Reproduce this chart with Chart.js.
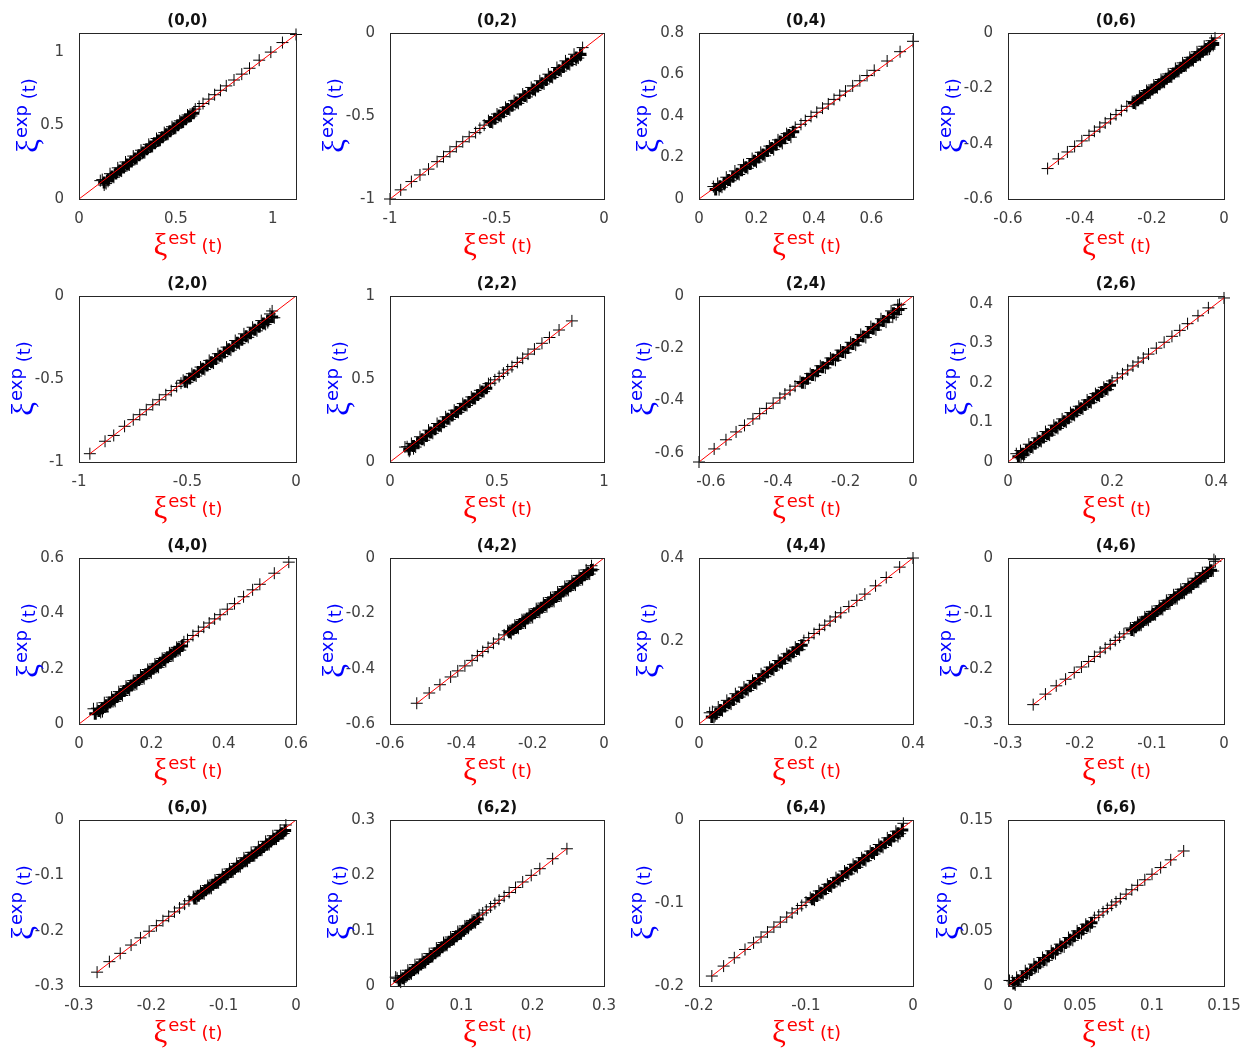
<!DOCTYPE html>
<html>
<head>
<meta charset="utf-8">
<script src="https://cdn.jsdelivr.net/npm/chart.js@4.4.0/dist/chart.umd.min.js"></script>
<style>
  html, body { margin: 0; padding: 0; background: #fff; }
  body { width: 1254px; height: 1057px; position: relative; overflow: hidden; }
  canvas { position: absolute; }
</style>
</head>
<body>
<script>
// panel titles, row by row
const titles = ['(0,0)', '(0,2)', '(0,4)', '(0,6)',
                '(2,0)', '(2,2)', '(2,4)', '(2,6)',
                '(4,0)', '(4,2)', '(4,4)', '(4,6)',
                '(6,0)', '(6,2)', '(6,4)', '(6,6)'];

// axis limits
const xMin = [0, -1, 0, -0.6,   -1, 0, -0.635, 0,     0, -0.6, 0, -0.3,   -0.3, 0, -0.2, 0];
const xMax = [1.12, 0, 0.745, 0, 0, 1, 0, 0.415,      0.6, 0, 0.4, 0,     0, 0.3, 0, 0.15];
const yMin = [0, -1, 0, -0.6,   -1, 0, -0.635, 0,     0, -0.6, 0, -0.3,   -0.3, 0, -0.2, 0];
const yMax = [1.13, 0, 0.8, 0,  0, 1, 0, 0.42,        0.6, 0, 0.4, 0,     0, 0.3, 0, 0.15];

// tick labels
const xTicks = [[0, 0.5, 1], [-1, -0.5, 0], [0, 0.2, 0.4, 0.6], [-0.6, -0.4, -0.2, 0],
                [-1, -0.5, 0], [0, 0.5, 1], [-0.6, -0.4, -0.2, 0], [0, 0.2, 0.4],
                [0, 0.2, 0.4, 0.6], [-0.6, -0.4, -0.2, 0], [0, 0.2, 0.4], [-0.3, -0.2, -0.1, 0],
                [-0.3, -0.2, -0.1, 0], [0, 0.1, 0.2, 0.3], [-0.2, -0.1, 0], [0, 0.05, 0.1, 0.15]];
const yTicks = [[0, 0.5, 1], [-1, -0.5, 0], [0, 0.2, 0.4, 0.6, 0.8], [-0.6, -0.4, -0.2, 0],
                [-1, -0.5, 0], [0, 0.5, 1], [-0.6, -0.4, -0.2, 0], [0, 0.1, 0.2, 0.3, 0.4],
                [0, 0.2, 0.4, 0.6], [-0.6, -0.4, -0.2, 0], [0, 0.2, 0.4], [-0.3, -0.2, -0.1, 0],
                [-0.3, -0.2, -0.1, 0], [0, 0.1, 0.2, 0.3], [-0.2, -0.1, 0], [0, 0.05, 0.1, 0.15]];

// end of the red y = x reference line (it starts at 0)
const lineEnd = [1.12, -1, 0.745, -0.49, -0.95, 0.85, -0.635, 0.415,
                 0.58, -0.525, 0.4, -0.265, -0.275, 0.248, -0.188, 0.122];

// [xi_est, xi_exp] pairs for each panel
const pts00 = [[1.12,1.12],[1.05,1.065],[0.99,1.0],[0.93,0.945],[0.88,0.89],[0.84,0.85],[0.80,0.81],[0.76,0.77],[0.73,0.74],[0.70,0.71],[0.67,0.68],[0.64,0.65],[0.62,0.63],
  [0.60,0.612],[0.58,0.565],[0.56,0.572],[0.54,0.524],[0.52,0.532],[0.50,0.482],[0.48,0.492],[0.46,0.441],[0.44,0.452],[0.42,0.40],[0.40,0.412],[0.38,0.358],[0.36,0.372],[0.34,0.316],[0.32,0.332],[0.30,0.274],[0.28,0.292],[0.26,0.232],[0.24,0.252],[0.22,0.19],[0.20,0.212],[0.18,0.148],[0.16,0.172],[0.14,0.105],[0.12,0.132],[0.15,0.12],[0.13,0.095],[0.11,0.125]];
const pts02 = [[-1,-1],[-0.95,-0.945],[-0.90,-0.895],[-0.86,-0.855],[-0.82,-0.82],[-0.78,-0.775],[-0.75,-0.745],[-0.72,-0.715],[-0.69,-0.685],[-0.66,-0.655],[-0.63,-0.625],[-0.60,-0.60],[-0.58,-0.575],[-0.56,-0.555],
  [-0.54,-0.528],[-0.52,-0.54],[-0.50,-0.488],[-0.48,-0.502],[-0.46,-0.448],[-0.44,-0.463],[-0.42,-0.408],[-0.40,-0.424],[-0.38,-0.368],[-0.36,-0.385],[-0.34,-0.328],[-0.32,-0.346],[-0.30,-0.288],[-0.28,-0.307],[-0.26,-0.248],[-0.24,-0.268],[-0.22,-0.208],[-0.20,-0.229],[-0.18,-0.168],[-0.16,-0.19],[-0.14,-0.128],[-0.12,-0.151],[-0.10,-0.088],[-0.11,-0.135],[-0.13,-0.163]];
const pts04 = [[0.745,0.76],[0.70,0.71],[0.655,0.665],[0.61,0.62],[0.585,0.595],[0.56,0.57],[0.535,0.545],[0.51,0.52],[0.49,0.50],[0.47,0.48],[0.45,0.458],[0.43,0.438],[0.41,0.418],[0.39,0.398],[0.37,0.378],[0.355,0.36],
  [0.335,0.345],[0.32,0.298],[0.305,0.315],[0.29,0.268],[0.275,0.285],[0.26,0.238],[0.245,0.255],[0.23,0.208],[0.215,0.225],[0.20,0.178],[0.185,0.195],[0.17,0.148],[0.155,0.165],[0.14,0.118],[0.125,0.135],[0.11,0.088],[0.095,0.105],[0.08,0.057],[0.065,0.075],[0.05,0.06],[0.07,0.045],[0.09,0.07]];
const pts06 = [[-0.49,-0.49],[-0.46,-0.455],[-0.435,-0.43],[-0.415,-0.41],[-0.395,-0.39],[-0.375,-0.37],[-0.36,-0.355],[-0.345,-0.34],[-0.33,-0.325],[-0.315,-0.31],[-0.30,-0.295],[-0.285,-0.28],[-0.27,-0.265],
  [-0.255,-0.248],[-0.245,-0.256],[-0.235,-0.228],[-0.225,-0.237],[-0.215,-0.208],[-0.205,-0.217],[-0.195,-0.188],[-0.185,-0.198],[-0.175,-0.168],[-0.165,-0.178],[-0.155,-0.148],[-0.145,-0.159],[-0.135,-0.128],[-0.125,-0.139],[-0.115,-0.108],[-0.105,-0.119],[-0.095,-0.088],[-0.085,-0.1],[-0.075,-0.068],[-0.065,-0.08],[-0.055,-0.048],[-0.045,-0.06],[-0.035,-0.028],[-0.03,-0.045],[-0.04,-0.058],[-0.025,-0.018]];
const pts20 = [[-0.95,-0.95],[-0.88,-0.875],[-0.84,-0.84],[-0.79,-0.785],[-0.75,-0.745],[-0.72,-0.715],[-0.69,-0.685],[-0.66,-0.655],[-0.63,-0.625],[-0.60,-0.595],[-0.575,-0.57],[-0.55,-0.545],[-0.53,-0.525],
  [-0.52,-0.508],[-0.50,-0.52],[-0.48,-0.468],[-0.46,-0.482],[-0.44,-0.428],[-0.42,-0.443],[-0.40,-0.388],[-0.38,-0.404],[-0.36,-0.348],[-0.34,-0.365],[-0.32,-0.308],[-0.30,-0.326],[-0.28,-0.268],[-0.26,-0.287],[-0.24,-0.228],[-0.22,-0.249],[-0.20,-0.188],[-0.18,-0.21],[-0.16,-0.148],[-0.14,-0.171],[-0.12,-0.108],[-0.10,-0.131],[-0.11,-0.09],[-0.13,-0.16]];
const pts22 = [[0.85,0.85],[0.79,0.795],[0.745,0.75],[0.71,0.715],[0.675,0.68],[0.645,0.65],[0.62,0.625],[0.595,0.60],[0.57,0.575],[0.55,0.555],[0.53,0.535],[0.51,0.515],[0.49,0.495],[0.47,0.475],
  [0.46,0.472],[0.44,0.424],[0.42,0.432],[0.40,0.382],[0.38,0.392],[0.36,0.34],[0.34,0.352],[0.32,0.299],[0.30,0.312],[0.28,0.257],[0.26,0.272],[0.24,0.215],[0.22,0.232],[0.20,0.173],[0.18,0.192],[0.16,0.131],[0.14,0.152],[0.12,0.09],[0.10,0.112],[0.08,0.092],[0.09,0.065],[0.11,0.08],[0.07,0.09]];
const pts24 = [[-0.635,-0.635],[-0.59,-0.585],[-0.555,-0.55],[-0.525,-0.52],[-0.50,-0.495],[-0.475,-0.47],[-0.455,-0.45],[-0.435,-0.43],[-0.415,-0.41],[-0.395,-0.39],[-0.38,-0.375],[-0.365,-0.36],[-0.35,-0.345],
  [-0.335,-0.327],[-0.32,-0.333],[-0.305,-0.297],[-0.29,-0.304],[-0.275,-0.267],[-0.26,-0.275],[-0.245,-0.237],[-0.23,-0.246],[-0.215,-0.207],[-0.20,-0.217],[-0.185,-0.177],[-0.17,-0.188],[-0.155,-0.147],[-0.14,-0.159],[-0.125,-0.117],[-0.11,-0.13],[-0.095,-0.087],[-0.08,-0.1],[-0.065,-0.057],[-0.05,-0.071],[-0.045,-0.035],[-0.06,-0.081],[-0.04,-0.032],[-0.035,-0.048]];
const pts26 = [[0.415,0.415],[0.385,0.39],[0.365,0.37],[0.345,0.35],[0.33,0.333],[0.315,0.318],[0.30,0.303],[0.285,0.288],[0.27,0.273],[0.26,0.263],[0.25,0.253],[0.24,0.243],[0.23,0.233],[0.22,0.223],[0.21,0.213],
  [0.20,0.205],[0.192,0.183],[0.184,0.189],[0.176,0.167],[0.168,0.173],[0.16,0.15],[0.152,0.157],[0.144,0.134],[0.136,0.141],[0.128,0.118],[0.12,0.125],[0.112,0.101],[0.104,0.109],[0.096,0.085],[0.088,0.093],[0.08,0.068],[0.072,0.077],[0.064,0.052],[0.056,0.061],[0.048,0.036],[0.04,0.045],[0.032,0.02],[0.024,0.029],[0.016,0.021],[0.025,0.012],[0.03,0.016]];
const pts40 = [[0.58,0.585],[0.54,0.545],[0.50,0.505],[0.48,0.485],[0.455,0.46],[0.43,0.435],[0.41,0.415],[0.39,0.395],[0.375,0.38],[0.36,0.365],[0.345,0.35],[0.33,0.335],[0.315,0.32],[0.30,0.305],
  [0.29,0.297],[0.28,0.267],[0.27,0.277],[0.26,0.246],[0.25,0.257],[0.24,0.226],[0.23,0.237],[0.22,0.205],[0.21,0.217],[0.20,0.185],[0.19,0.197],[0.18,0.164],[0.17,0.177],[0.16,0.144],[0.15,0.157],[0.14,0.123],[0.13,0.137],[0.12,0.103],[0.11,0.117],[0.10,0.082],[0.09,0.097],[0.08,0.062],[0.07,0.077],[0.06,0.042],[0.05,0.057],[0.04,0.055],[0.065,0.045]];
const pts42 = [[-0.525,-0.525],[-0.49,-0.488],[-0.46,-0.458],[-0.43,-0.43],[-0.41,-0.408],[-0.39,-0.39],[-0.37,-0.37],[-0.355,-0.353],[-0.34,-0.338],[-0.325,-0.323],[-0.31,-0.308],[-0.295,-0.293],[-0.28,-0.278],
  [-0.27,-0.263],[-0.26,-0.273],[-0.25,-0.243],[-0.24,-0.254],[-0.23,-0.223],[-0.22,-0.235],[-0.21,-0.203],[-0.20,-0.215],[-0.19,-0.183],[-0.18,-0.196],[-0.17,-0.163],[-0.16,-0.176],[-0.15,-0.143],[-0.14,-0.157],[-0.13,-0.123],[-0.12,-0.137],[-0.11,-0.103],[-0.10,-0.117],[-0.09,-0.083],[-0.08,-0.098],[-0.07,-0.063],[-0.06,-0.078],[-0.05,-0.043],[-0.04,-0.058],[-0.035,-0.028],[-0.03,-0.042]];
const pts44 = [[0.40,0.40],[0.375,0.378],[0.35,0.353],[0.33,0.333],[0.31,0.313],[0.295,0.298],[0.28,0.283],[0.265,0.268],[0.255,0.258],[0.245,0.248],[0.235,0.238],[0.225,0.228],[0.215,0.218],[0.205,0.208],
  [0.196,0.201],[0.188,0.179],[0.18,0.185],[0.172,0.163],[0.164,0.169],[0.156,0.146],[0.148,0.153],[0.14,0.13],[0.132,0.137],[0.124,0.114],[0.116,0.121],[0.108,0.097],[0.10,0.105],[0.092,0.081],[0.084,0.089],[0.076,0.065],[0.068,0.073],[0.06,0.048],[0.052,0.057],[0.044,0.032],[0.036,0.041],[0.028,0.016],[0.02,0.027],[0.03,0.02],[0.025,0.03]];
const pts46 = [[-0.265,-0.265],[-0.248,-0.246],[-0.233,-0.231],[-0.22,-0.219],[-0.208,-0.207],[-0.198,-0.197],[-0.188,-0.187],[-0.18,-0.178],[-0.172,-0.17],[-0.165,-0.163],[-0.158,-0.156],[-0.151,-0.149],[-0.145,-0.143],[-0.139,-0.137],
  [-0.13,-0.1265],[-0.125,-0.1315],[-0.12,-0.1165],[-0.115,-0.1215],[-0.11,-0.1065],[-0.105,-0.1125],[-0.10,-0.0965],[-0.095,-0.1025],[-0.09,-0.0865],[-0.085,-0.093],[-0.08,-0.0765],[-0.075,-0.083],[-0.07,-0.0665],[-0.065,-0.0735],[-0.06,-0.0565],[-0.055,-0.0635],[-0.05,-0.0465],[-0.045,-0.0535],[-0.04,-0.0365],[-0.035,-0.0435],[-0.03,-0.0265],[-0.025,-0.0335],[-0.02,-0.0165],[-0.015,-0.0235],[-0.012,-0.006],[-0.014,-0.003]];
const pts60 = [[-0.275,-0.275],[-0.258,-0.256],[-0.243,-0.241],[-0.228,-0.226],[-0.215,-0.213],[-0.203,-0.201],[-0.193,-0.191],[-0.184,-0.182],[-0.176,-0.174],[-0.168,-0.166],[-0.161,-0.159],[-0.154,-0.152],[-0.148,-0.146],
  [-0.142,-0.1385],[-0.137,-0.1425],[-0.132,-0.1285],[-0.127,-0.1335],[-0.122,-0.1185],[-0.117,-0.1235],[-0.112,-0.1085],[-0.107,-0.1135],[-0.102,-0.0985],[-0.097,-0.104],[-0.092,-0.0885],[-0.087,-0.094],[-0.082,-0.0785],[-0.077,-0.0845],[-0.072,-0.0685],[-0.067,-0.0745],[-0.062,-0.0585],[-0.057,-0.0645],[-0.052,-0.0485],[-0.047,-0.0545],[-0.042,-0.0385],[-0.037,-0.0445],[-0.032,-0.0285],[-0.027,-0.0345],[-0.022,-0.0185],[-0.017,-0.0245],[-0.014,-0.009],[-0.016,-0.02]];
const pts62 = [[0.248,0.248],[0.228,0.23],[0.21,0.212],[0.198,0.2],[0.186,0.188],[0.176,0.178],[0.167,0.169],[0.16,0.162],[0.153,0.155],[0.147,0.149],[0.141,0.143],[0.135,0.137],[0.13,0.132],
  [0.125,0.1285],[0.12,0.1145],[0.115,0.1185],[0.11,0.1045],[0.105,0.1085],[0.10,0.094],[0.095,0.0985],[0.09,0.084],[0.085,0.0885],[0.08,0.0735],[0.075,0.0785],[0.07,0.0635],[0.065,0.0685],[0.06,0.053],[0.055,0.0585],[0.05,0.0425],[0.045,0.0485],[0.04,0.032],[0.035,0.0385],[0.03,0.022],[0.025,0.0285],[0.02,0.0115],[0.015,0.0185],[0.01,0.014],[0.015,0.007],[0.008,0.016]];
const pts64 = [[-0.188,-0.188],[-0.177,-0.176],[-0.167,-0.166],[-0.157,-0.156],[-0.149,-0.148],[-0.142,-0.141],[-0.136,-0.135],[-0.13,-0.129],[-0.124,-0.123],[-0.118,-0.117],[-0.113,-0.112],[-0.108,-0.107],[-0.104,-0.103],[-0.10,-0.099],
  [-0.096,-0.0935],[-0.092,-0.0965],[-0.088,-0.0855],[-0.084,-0.0885],[-0.08,-0.0775],[-0.076,-0.0805],[-0.072,-0.0695],[-0.068,-0.073],[-0.064,-0.0615],[-0.06,-0.065],[-0.056,-0.0535],[-0.052,-0.057],[-0.048,-0.0455],[-0.044,-0.049],[-0.04,-0.0375],[-0.036,-0.041],[-0.032,-0.0295],[-0.028,-0.033],[-0.024,-0.0215],[-0.02,-0.025],[-0.016,-0.0135],[-0.012,-0.0165],[-0.009,-0.004],[-0.014,-0.02]];
const pts66 = [[0.122,0.122],[0.113,0.114],[0.106,0.107],[0.1,0.101],[0.095,0.096],[0.09,0.091],[0.086,0.087],[0.082,0.083],[0.078,0.079],[0.075,0.076],[0.072,0.073],[0.069,0.07],[0.066,0.067],[0.063,0.064],
  [0.06,0.0618],[0.057,0.0535],[0.054,0.0558],[0.051,0.0475],[0.048,0.0498],[0.045,0.0413],[0.042,0.0438],[0.039,0.0353],[0.036,0.0378],[0.033,0.0292],[0.03,0.0318],[0.027,0.0232],[0.024,0.0258],[0.021,0.0172],[0.018,0.0198],[0.015,0.0111],[0.012,0.0138],[0.009,0.005],[0.006,0.0078],[0.003,0.0045],[0.005,0.001],[0.001,0.005]];

// more points inside the dense part of each band
const ext00 = [[0.59,0.584],[0.57,0.563],[0.55,0.543],[0.53,0.522],[0.51,0.502],[0.49,0.481],[0.47,0.461],[0.45,0.44],[0.43,0.42],[0.41,0.399],[0.39,0.379],[0.37,0.358],[0.35,0.338],[0.33,0.317],[0.31,0.297],[0.29,0.276],[0.27,0.256],[0.25,0.235],[0.23,0.215],[0.21,0.194],[0.19,0.174],[0.17,0.153],[0.15,0.133],[0.13,0.112]];
const ext02 = [[-0.53,-0.536],[-0.51,-0.517],[-0.49,-0.497],[-0.47,-0.478],[-0.45,-0.458],[-0.43,-0.439],[-0.41,-0.419],[-0.39,-0.4],[-0.37,-0.38],[-0.35,-0.361],[-0.33,-0.341],[-0.31,-0.322],[-0.29,-0.302],[-0.27,-0.283],[-0.25,-0.263],[-0.23,-0.244],[-0.21,-0.224],[-0.19,-0.205],[-0.17,-0.185],[-0.15,-0.166],[-0.13,-0.147],[-0.11,-0.128]];
const ext04 = [[0.328,0.324],[0.313,0.308],[0.298,0.293],[0.283,0.277],[0.268,0.262],[0.253,0.246],[0.238,0.231],[0.223,0.215],[0.208,0.2],[0.193,0.184],[0.178,0.169],[0.163,0.153],[0.148,0.138],[0.133,0.122],[0.118,0.107],[0.103,0.092],[0.088,0.077],[0.073,0.061],[0.058,0.046]];
const ext06 = [[-0.25,-0.253],[-0.24,-0.243],[-0.23,-0.234],[-0.22,-0.224],[-0.21,-0.214],[-0.2,-0.204],[-0.19,-0.195],[-0.18,-0.185],[-0.17,-0.175],[-0.16,-0.165],[-0.15,-0.156],[-0.14,-0.146],[-0.13,-0.136],[-0.12,-0.126],[-0.11,-0.117],[-0.1,-0.107],[-0.09,-0.097],[-0.08,-0.087],[-0.07,-0.077],[-0.06,-0.068],[-0.05,-0.058],[-0.04,-0.048],[-0.03,-0.038]];
const ext20 = [[-0.51,-0.516],[-0.49,-0.497],[-0.47,-0.477],[-0.45,-0.458],[-0.43,-0.438],[-0.41,-0.419],[-0.39,-0.399],[-0.37,-0.38],[-0.35,-0.36],[-0.33,-0.341],[-0.31,-0.321],[-0.29,-0.302],[-0.27,-0.282],[-0.25,-0.263],[-0.23,-0.243],[-0.21,-0.224],[-0.19,-0.204],[-0.17,-0.185],[-0.15,-0.166],[-0.13,-0.147],[-0.11,-0.127]];
const ext22 = [[0.45,0.444],[0.43,0.424],[0.41,0.403],[0.39,0.383],[0.37,0.362],[0.35,0.342],[0.33,0.321],[0.31,0.301],[0.29,0.28],[0.27,0.26],[0.25,0.239],[0.23,0.219],[0.21,0.198],[0.19,0.178],[0.17,0.157],[0.15,0.137],[0.13,0.116],[0.11,0.096],[0.09,0.075]];
const ext24 = [[-0.328,-0.332],[-0.313,-0.317],[-0.298,-0.302],[-0.283,-0.288],[-0.268,-0.273],[-0.253,-0.258],[-0.238,-0.243],[-0.223,-0.229],[-0.208,-0.214],[-0.193,-0.199],[-0.178,-0.184],[-0.163,-0.17],[-0.148,-0.155],[-0.133,-0.14],[-0.118,-0.125],[-0.103,-0.111],[-0.088,-0.096],[-0.073,-0.081],[-0.058,-0.066],[-0.043,-0.052]];
const ext26 = [[0.196,0.194],[0.188,0.185],[0.18,0.177],[0.172,0.169],[0.164,0.161],[0.156,0.152],[0.148,0.144],[0.14,0.136],[0.132,0.128],[0.124,0.12],[0.116,0.111],[0.108,0.103],[0.1,0.095],[0.092,0.087],[0.084,0.079],[0.076,0.07],[0.068,0.062],[0.06,0.054],[0.052,0.046],[0.044,0.038],[0.036,0.03],[0.028,0.021],[0.02,0.013]];
const ext40 = [[0.285,0.282],[0.275,0.272],[0.265,0.261],[0.255,0.251],[0.245,0.241],[0.235,0.231],[0.225,0.221],[0.215,0.21],[0.205,0.2],[0.195,0.19],[0.185,0.18],[0.175,0.17],[0.165,0.159],[0.155,0.149],[0.145,0.139],[0.135,0.129],[0.125,0.119],[0.115,0.108],[0.105,0.098],[0.095,0.088],[0.085,0.078],[0.075,0.068],[0.065,0.057],[0.055,0.047],[0.045,0.037]];
const ext42 = [[-0.265,-0.268],[-0.255,-0.258],[-0.245,-0.249],[-0.235,-0.239],[-0.225,-0.229],[-0.215,-0.219],[-0.205,-0.209],[-0.195,-0.2],[-0.185,-0.19],[-0.175,-0.18],[-0.165,-0.17],[-0.155,-0.16],[-0.145,-0.151],[-0.135,-0.141],[-0.125,-0.131],[-0.115,-0.121],[-0.105,-0.111],[-0.095,-0.102],[-0.085,-0.092],[-0.075,-0.082],[-0.065,-0.072],[-0.055,-0.062],[-0.045,-0.053],[-0.035,-0.043]];
const ext44 = [[0.192,0.19],[0.184,0.181],[0.176,0.173],[0.168,0.165],[0.16,0.157],[0.152,0.148],[0.144,0.14],[0.136,0.132],[0.128,0.124],[0.12,0.116],[0.112,0.107],[0.104,0.099],[0.096,0.091],[0.088,0.083],[0.08,0.075],[0.072,0.066],[0.064,0.058],[0.056,0.05],[0.048,0.042],[0.04,0.034],[0.032,0.025],[0.024,0.017]];
const ext46 = [[-0.128,-0.13],[-0.123,-0.125],[-0.118,-0.12],[-0.113,-0.115],[-0.108,-0.11],[-0.103,-0.106],[-0.098,-0.101],[-0.093,-0.096],[-0.088,-0.091],[-0.083,-0.086],[-0.078,-0.081],[-0.073,-0.076],[-0.068,-0.071],[-0.063,-0.066],[-0.058,-0.062],[-0.053,-0.057],[-0.048,-0.052],[-0.043,-0.047],[-0.038,-0.042],[-0.033,-0.037],[-0.028,-0.032],[-0.023,-0.027],[-0.018,-0.022]];
const ext60 = [[-0.14,-0.142],[-0.135,-0.137],[-0.13,-0.132],[-0.125,-0.127],[-0.12,-0.122],[-0.115,-0.117],[-0.11,-0.113],[-0.105,-0.108],[-0.1,-0.103],[-0.095,-0.098],[-0.09,-0.093],[-0.085,-0.088],[-0.08,-0.083],[-0.075,-0.078],[-0.07,-0.073],[-0.065,-0.068],[-0.06,-0.064],[-0.055,-0.059],[-0.05,-0.054],[-0.045,-0.049],[-0.04,-0.044],[-0.035,-0.039],[-0.03,-0.034],[-0.025,-0.029],[-0.02,-0.024],[-0.015,-0.019]];
const ext62 = [[0.123,0.121],[0.118,0.116],[0.113,0.111],[0.108,0.106],[0.103,0.1],[0.098,0.095],[0.093,0.09],[0.088,0.085],[0.083,0.08],[0.078,0.075],[0.073,0.07],[0.068,0.065],[0.063,0.059],[0.058,0.054],[0.053,0.049],[0.048,0.044],[0.043,0.039],[0.038,0.034],[0.033,0.029],[0.028,0.024],[0.023,0.019],[0.018,0.014],[0.013,0.009]];
const ext64 = [[-0.094,-0.0955],[-0.09,-0.0915],[-0.086,-0.0875],[-0.082,-0.0835],[-0.078,-0.0795],[-0.074,-0.0757],[-0.07,-0.0717],[-0.066,-0.0677],[-0.062,-0.0637],[-0.058,-0.0597],[-0.054,-0.0558],[-0.05,-0.0518],[-0.046,-0.0478],[-0.042,-0.0438],[-0.038,-0.0398],[-0.034,-0.036],[-0.03,-0.032],[-0.026,-0.028],[-0.022,-0.024],[-0.018,-0.02],[-0.014,-0.016],[-0.01,-0.012]];
const ext66 = [[0.058,0.0572],[0.055,0.0541],[0.052,0.0511],[0.049,0.048],[0.046,0.045],[0.043,0.0419],[0.04,0.0389],[0.037,0.0358],[0.034,0.0328],[0.031,0.0297],[0.028,0.0267],[0.025,0.0236],[0.022,0.0205],[0.019,0.0175],[0.016,0.0144],[0.013,0.0113],[0.01,0.0083],[0.007,0.0052],[0.004,0.0022]];

const panels = [pts00, pts02, pts04, pts06, pts20, pts22, pts24, pts26,
                pts40, pts42, pts44, pts46, pts60, pts62, pts64, pts66];
const extras = [ext00, ext02, ext04, ext06, ext20, ext22, ext24, ext26,
                ext40, ext42, ext44, ext46, ext60, ext62, ext64, ext66];

// page layout (plot box edges in page pixels)
const colLeft = [79, 390, 699, 1008];
const colRight = [296, 604, 913, 1224];
const rowTop = [33, 296, 558, 820];
const plotH = 166;
const AXW = 79, TOP = 33, RIGHTPAD = 26, CH = 262;

const tickFont = '15px "DejaVu Sans"';

function drawSym(ctx, cx, base, sup, color) {
  // xi^{sup} (t), centred on cx, main baseline at base
  ctx.fillStyle = color;
  ctx.textAlign = 'left';
  ctx.textBaseline = 'alphabetic';
  const big = '31px "Liberation Serif"', small = '18px "DejaVu Sans"';
  ctx.font = big;
  const w1 = ctx.measureText('ξ').width;
  ctx.font = small;
  const w2 = ctx.measureText(sup).width;
  const w3 = ctx.measureText(' (t)').width;
  const x0 = cx - (w1 + w2 + w3) / 2;
  ctx.font = big;
  ctx.fillText('ξ', x0, base + 3);
  ctx.font = small;
  ctx.fillText(sup, x0 + w1 + 1, base - 8);
  ctx.fillText(' (t)', x0 + w1 + w2 + 1, base);
}

const framePlugin = {
  id: 'frame',
  afterDraw(chart, args, opts) {
    const ctx = chart.ctx, a = chart.chartArea;
    ctx.save();
    ctx.strokeStyle = '#262626';
    ctx.lineWidth = 1;
    ctx.strokeRect(Math.round(a.left) + 0.5, Math.round(a.top) + 0.5,
                   Math.round(a.right - a.left), Math.round(a.bottom - a.top));
    ctx.fillStyle = '#111';
    ctx.font = 'bold 15px "DejaVu Sans"';
    ctx.textAlign = 'center';
    ctx.textBaseline = 'alphabetic';
    ctx.fillText(opts.title, (a.left + a.right) / 2, a.top - 8);

    drawSym(ctx, (a.left + a.right) / 2, a.bottom + 53, 'est', '#ff0000');

    ctx.font = tickFont;
    const w = Math.max(...opts.yLabels.map(s => ctx.measureText(s).width));
    const bx = a.left - 7 - w - 13;
    ctx.translate(bx, (a.top + a.bottom) / 2);
    ctx.rotate(-Math.PI / 2);
    drawSym(ctx, 0, 0, 'exp', '#0000ff');
    ctx.restore();
  }
};

for (let i = 0; i < 16; i++) {
  const r = Math.floor(i / 4), c = i % 4;
  const plotW = colRight[c] - colLeft[c];
  const cv = document.createElement('canvas');
  cv.width = AXW + plotW + RIGHTPAD;
  cv.height = CH;
  cv.style.left = (colLeft[c] - AXW) + 'px';
  cv.style.top = (rowTop[r] - TOP) + 'px';
  document.body.appendChild(cv);

  const xt = xTicks[i], yt = yTicks[i];
  new Chart(cv.getContext('2d'), {
    type: 'scatter',
    data: {
      datasets: [
        {
          data: [{ x: 0, y: 0 }, { x: lineEnd[i], y: lineEnd[i] }],
          showLine: true,
          borderColor: '#ff0000',
          borderWidth: 1,
          pointRadius: 0,
          order: 0
        },
        {
          data: panels[i].map(p => ({ x: p[0], y: p[1] })),
          pointStyle: 'cross',
          pointRadius: 6,
          borderColor: '#000',
          borderWidth: 1,
          clip: false,
          order: 1
        },
        {
          data: extras[i].map(p => ({ x: p[0], y: p[1] })),
          pointStyle: 'cross',
          pointRadius: 6,
          borderColor: '#000',
          borderWidth: 3,
          clip: false,
          order: 2
        }
      ]
    },
    options: {
      responsive: false,
      animation: false,
      events: [],
      layout: { padding: { left: 0, top: TOP, right: RIGHTPAD, bottom: 0 } },
      plugins: {
        legend: { display: false },
        tooltip: { enabled: false },
        frame: { title: titles[i], yLabels: yt.map(String) }
      },
      scales: {
        x: {
          type: 'linear', min: xMin[i], max: xMax[i],
          grid: { display: false }, border: { display: false },
          ticks: { color: '#404040', font: { family: 'DejaVu Sans', size: 15 }, padding: 3,
                   maxRotation: 0, autoSkip: false, callback: v => String(v) },
          afterBuildTicks: s => { s.ticks = xt.map(v => ({ value: v })); },
          afterFit: s => { s.height = CH - TOP - plotH; }
        },
        y: {
          type: 'linear', min: yMin[i], max: yMax[i],
          grid: { display: false }, border: { display: false },
          ticks: { color: '#404040', font: { family: 'DejaVu Sans', size: 15 }, padding: 7,
                   autoSkip: false, callback: v => String(v) },
          afterBuildTicks: s => { s.ticks = yt.map(v => ({ value: v })); },
          afterFit: s => { s.width = AXW; }
        }
      }
    },
    plugins: [framePlugin]
  });
}
</script>
</body>
</html>
